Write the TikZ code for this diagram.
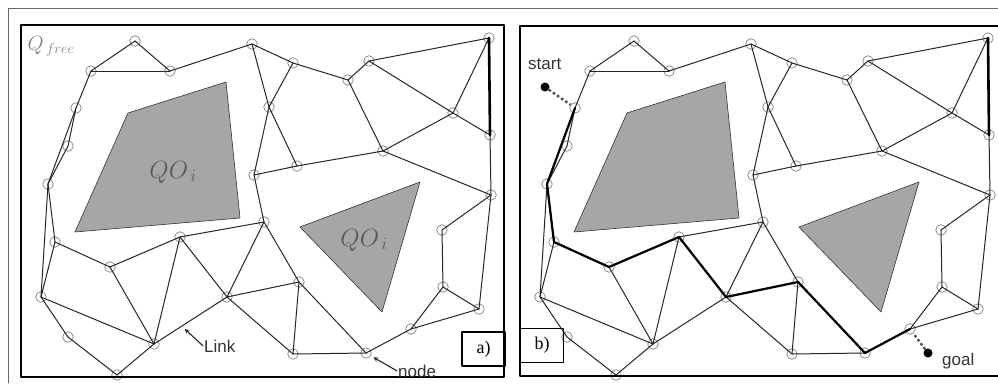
\documentclass[tikz,border=0pt]{standalone}
\usepackage{fontspec}
\setmainfont{Liberation Serif}
\newfontfamily\labelfont{Liberation Sans}
\begin{document}
\begin{tikzpicture}[x=1pt,y=-1pt,>=stealth,line join=round,line cap=round,
	vtx/.style={circle,draw=black!50,line width=0.7pt,minimum size=10.5pt,inner sep=0pt},
	link/.style={line width=1pt,black!85},
	route/.style={line width=2.2pt,black},
	obst/.style={fill=black!35,draw=black!80,line width=0.6pt},
	tag/.style={draw,line width=1.4pt,minimum width=43pt,minimum height=34pt,inner sep=0pt,font=\fontsize{18}{20}\selectfont},
	lbl/.style={inner sep=1pt,text=black!80,font=\labelfont\fontsize{17}{19}\selectfont}]
		\useasboundingbox (0,0) rectangle (998,383);
		\draw[black!60,line width=0.8pt] (8,383) -- (8,8.5) -- (998,8.5);
		\foreach \dx in {0,499}{
			\draw[obst] (128+\dx,113) -- (226+\dx,82) -- (240+\dx,218) -- (75+\dx,232) -- cycle;
			\draw[obst] (300+\dx,227) -- (420+\dx,182) -- (382+\dx,312) -- cycle;
		}
		\foreach \p/\dx in {a/0,b/499}{
			\foreach \n/\x/\y in {1/135/41,2/91/71,3/170/71,4/252/44,5/76/108,6/68/146,7/48/184,8/254/175,
				9/293/63,10/269/107,11/348/80,12/369/61,13/489/38,14/453/113,15/490/135,16/383/151,
				17/297/166,18/491/195,19/55/242,20/110/267,21/180/237,22/41/297,23/68/337,24/154/344,
				25/117/375,26/227/297,27/264/222,28/299/282,29/293/354,30/366/353,31/411/329,
				32/442/230,33/443/287,34/479/309}{
				\node[vtx] (\p\n) at (\x+\dx,\y) {};
			}
			\foreach \u/\v in {1/2,1/3,2/3,3/4,2/5,5/6,6/7,5/7,4/9,9/11,11/12,12/13,4/10,10/17,9/10,10/8,
				11/16,12/14,14/15,13/14,15/18,14/16,16/17,8/17,16/18,7/22,7/19,19/22,19/20,20/21,
				20/24,21/24,21/26,22/24,22/23,23/25,25/24,24/26,21/27,26/27,26/28,26/29,8/27,27/28,
				28/29,28/30,29/30,30/31,31/33,31/34,33/34,33/32,32/18,34/18}{
				\draw[link] (\p\u.center) -- (\p\v.center);
			}
			\draw[route,line width=2.6pt] (\p13.center) -- (\p15.center);
		}
		\foreach \u/\v in {5/7,7/19,19/20,20/21,21/26,26/28,28/30,30/31}{
			\draw[route] (b\u.center) -- (b\v.center);
		}
		\draw[line width=1.6pt] (21,25) rectangle (504,377);
		\draw[line width=1.6pt] (998,26) -- (520,26) -- (520,376) -- (998,376);
		\node[tag] (taga) at (483.5,349) {\raisebox{-4pt}{a)}};
		\node[tag] (tagb) at (542,345.5) {\raisebox{-4pt}{b)}};
		\node[anchor=west,text=black!50,font=\fontsize{22}{24}\selectfont] (qfree) at (24,46) {$Q_{\,free}$};
		\node[text=black!65,font=\fontsize{24}{26}\selectfont] (qo1) at (173,172) {$QO_{\,i}$};
		\node[text=black!65,font=\fontsize{24}{26}\selectfont] (qo2) at (364,240) {$QO_{\,i}$};
		\path (a24.center) -- (a26.center) coordinate[pos=0.38] (lk);
		\node[lbl,anchor=base west] (linklbl) at (203,352) {Link};
		\draw[->,line width=1.1pt,black!85,shorten >=4pt] (linklbl.west) -- (lk);
		\node[lbl,anchor=base west] (nodelbl) at (397,377) {node};
		\draw[->,line width=1.1pt,black!85,shorten >=3pt] (nodelbl.west) -- (a30);
		\node[circle,fill=black,minimum size=9pt,inner sep=0pt] (start) at (545,87) {};
		\node[circle,fill=black,minimum size=9pt,inner sep=0pt] (goal) at (928,353) {};
		\node[lbl,anchor=base west] (startlbl) at (527,69) {start};
		\node[lbl,anchor=base west] (goallbl) at (941,365) {goal};
		\draw[line width=2.4pt,black!70,dash pattern=on 2.5pt off 2.5pt,line cap=butt] (start) -- (b5);
		\draw[line width=2.4pt,black!70,dash pattern=on 2.5pt off 2.5pt,line cap=butt] (goal) -- (b31);
\end{tikzpicture}
\end{document}
